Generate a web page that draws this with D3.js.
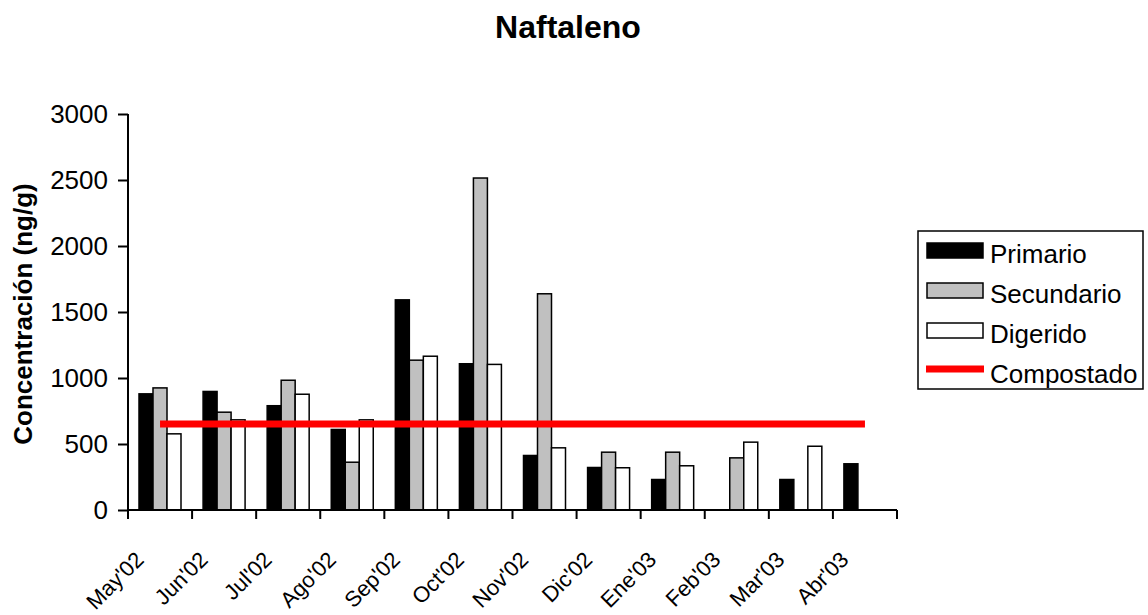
<!DOCTYPE html>
<html>
<head>
<meta charset="utf-8">
<script src="https://cdn.jsdelivr.net/npm/d3@7/dist/d3.min.js"></script>
<style>
  html, body { margin: 0; padding: 0; background: #fff; }
  svg { display: block; font-family: "Liberation Sans", Arial, sans-serif; }
</style>
</head>
<body>
<svg id="chart" width="1148" height="615"></svg>
<script>
const categories = ["May'02","Jun'02","Jul'02","Ago'02","Sep'02","Oct'02","Nov'02","Dic'02","Ene'03","Feb'03","Mar'03","Abr'03"];
const primario   = [880, 898, 790, 610, 1592, 1108, 413, 322, 231, 0, 231, 350];
const secundario = [925, 741, 983, 362, 1135, 2515, 1638, 438, 438, 395, 0, 0];
const digerido   = [577, 683, 877, 683, 1165, 1103, 471, 320, 335, 514, 483, 0];
const compostado = [652, 652, 652, 652, 652, 652, 652, 652, 652, 652, 652, 652];
const seriesNames = ["Primario", "Secundario", "Digerido"];
const lineName = "Compostado";
const yTicks = [0, 500, 1000, 1500, 2000, 2500, 3000];
const title = "Naftaleno";
const yLabel = "Concentración (ng/g)";

(function () {
const fills = {"Primario": "#000000", "Secundario": "#C0C0C0", "Digerido": "#FFFFFF"};
const seriesData = {"Primario": primario, "Secundario": secundario, "Digerido": digerido};

const svg = d3.select("#chart");
const pLeft = 128, pRight = 897, pTop = 114, pBottom = 510;

const x = d3.scaleBand().domain(categories).range([pLeft, pRight]).padding(0);
const x1 = d3.scaleBand().domain(seriesNames).range([11, 53]).padding(0);
const y = d3.scaleLinear().domain([0, 3000]).range([pBottom, pTop]);

// Title
svg.append("text")
  .attr("x", 568).attr("y", 38)
  .attr("text-anchor", "middle")
  .attr("font-size", 32).attr("font-weight", "bold")
  .text(title);

// Y label
svg.append("text")
  .attr("transform", `translate(32, 314) rotate(-90)`)
  .attr("text-anchor", "middle")
  .attr("font-size", 26).attr("font-weight", "bold")
  .text(yLabel);

// Bars
const groups = svg.append("g");
seriesNames.forEach(s => {
  groups.selectAll(null)
    .data(categories.map((c, i) => ({c, v: seriesData[s][i]})).filter(d => d.v > 0))
    .enter().append("rect")
    .attr("x", d => x(d.c) + x1(s))
    .attr("y", d => y(d.v))
    .attr("width", x1.bandwidth())
    .attr("height", d => y(0) - y(d.v))
    .attr("fill", fills[s])
    .attr("stroke", "#000")
    .attr("stroke-width", 1.5);
});

// Line
const line = d3.line()
  .x((d, i) => x(categories[i]) + x.bandwidth() / 2)
  .y(d => y(d));
svg.append("path")
  .datum(compostado)
  .attr("d", line)
  .attr("fill", "none")
  .attr("stroke", "#FF0000")
  .attr("stroke-width", 7);

// Y axis
const yAxis = svg.append("g")
  .attr("transform", `translate(${pLeft},0)`)
  .call(d3.axisLeft(y).tickValues(yTicks).tickSize(10).tickPadding(10).tickFormat(d3.format("d")));
yAxis.select(".domain").attr("stroke", "#000").attr("stroke-width", 2).attr("d", `M0,${pTop}V${pBottom}`);
yAxis.selectAll(".tick line").attr("stroke", "#000").attr("stroke-width", 2);
yAxis.selectAll("text").attr("font-size", 26).attr("fill", "#000").attr("font-family", "Liberation Sans, Arial, sans-serif");

// X axis
const xTickPos = categories.map(c => x(c)).concat([pRight]);
const xAxisG = svg.append("g");
xAxisG.append("line")
  .attr("x1", pLeft).attr("x2", pRight).attr("y1", pBottom).attr("y2", pBottom)
  .attr("stroke", "#000").attr("stroke-width", 2);
xAxisG.selectAll(".xt").data(xTickPos).enter().append("line")
  .attr("x1", d => d).attr("x2", d => d)
  .attr("y1", pBottom).attr("y2", pBottom + 9)
  .attr("stroke", "#000").attr("stroke-width", 2);
xAxisG.selectAll(".xl").data(categories).enter().append("text")
  .attr("transform", d => `translate(${x(d) + x.bandwidth() / 2 - 15}, ${pBottom + 51}) rotate(-45)`)
  .attr("text-anchor", "end")
  .attr("font-size", 22)
  .text(d => d);

// Legend
const lg = svg.append("g");
lg.append("rect").attr("x", 918).attr("y", 231).attr("width", 225).attr("height", 158)
  .attr("fill", "#fff").attr("stroke", "#000").attr("stroke-width", 1.5);
const legendItems = seriesNames.concat([lineName]);
legendItems.forEach((name, i) => {
  const cy = 251 + i * 40;
  if (name === lineName) {
    lg.append("line").attr("x1", 926).attr("x2", 984).attr("y1", cy - 2).attr("y2", cy - 2)
      .attr("stroke", "#FF0000").attr("stroke-width", 7);
  } else {
    lg.append("rect").attr("x", 927).attr("y", cy - 8).attr("width", 56).attr("height", 15)
      .attr("fill", fills[name]).attr("stroke", "#000").attr("stroke-width", 1.5);
  }
  lg.append("text").attr("x", 990).attr("y", cy + 12)
    .attr("font-size", 26).text(name);
});
})();
</script>
</body>
</html>
